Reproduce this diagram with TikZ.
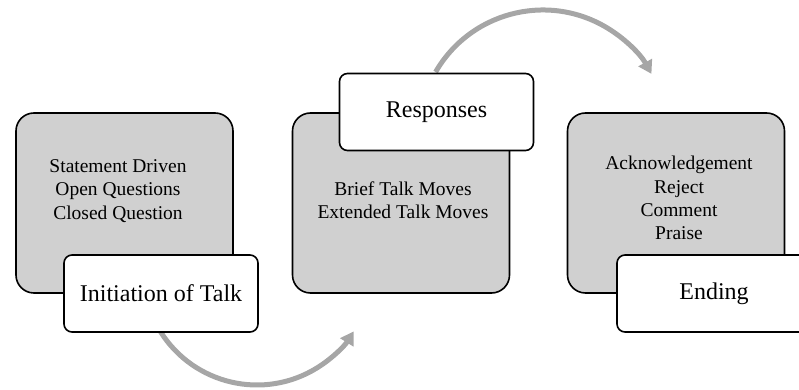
\documentclass[tikz,border=0pt]{standalone}
\usepackage{fontspec}
\setmainfont{Liberation Serif}
\usetikzlibrary{arrows.meta}
\definecolor{panelgray}{RGB}{208,208,208}
\definecolor{flowgray}{RGB}{166,166,166}
\begin{document}
\begin{tikzpicture}[x=1pt,y=1pt,
  panel/.style={draw=black,line width=1.6pt,fill=panelgray,rounded corners=18pt,
    minimum width=217pt,minimum height=180pt,inner sep=0pt},
  tag/.style={draw=black,line width=1.6pt,fill=white,rounded corners=8pt,
    minimum width=194pt,minimum height=77pt,inner sep=0pt,
    font=\fontsize{24}{28}\selectfont},
  items/.style={align=center,font=\fontsize{19.5}{23.3}\selectfont},
  flow/.style={draw=flowgray,line width=5pt,-{Triangle[length=13pt,width=15pt]}}]
\useasboundingbox (0,0) rectangle (799,390);
\clip (0,0) rectangle (799,390);

% curved flow arrows (drawn first so the boxes cover their tails)
\coordinate (flowA) at (160.3,58.6);
\coordinate (flowB) at (435.6,318);
\draw[flow] (flowA) arc[start angle=212,end angle=328,radius=114];
\draw[flow] (flowB) arc[start angle=150,end angle=29,radius=124];

% grey panels
\node[panel] (p1) at (124.5,187) {};
\node[panel] (p2) at (401,187) {};
\node[panel] (p3) at (676,187) {};

% panel contents
\node[items] (t1) at (118,199) {Statement Driven\\Open Questions\\Closed Question};
\node[items] (t2) at (403,190) {Brief Talk Moves\\Extended Talk Moves};
\node[items] (t3) at (679,192) {Acknowledgement\\Reject\\Comment\\Praise};

% stage labels
\node[tag] (l1) at (161,96.5) {Initiation of Talk};
\node[tag] (l2) at (436.5,278) {Responses};
\node[tag] (l3) at (714,96.5) {Ending};
\end{tikzpicture}
\end{document}
